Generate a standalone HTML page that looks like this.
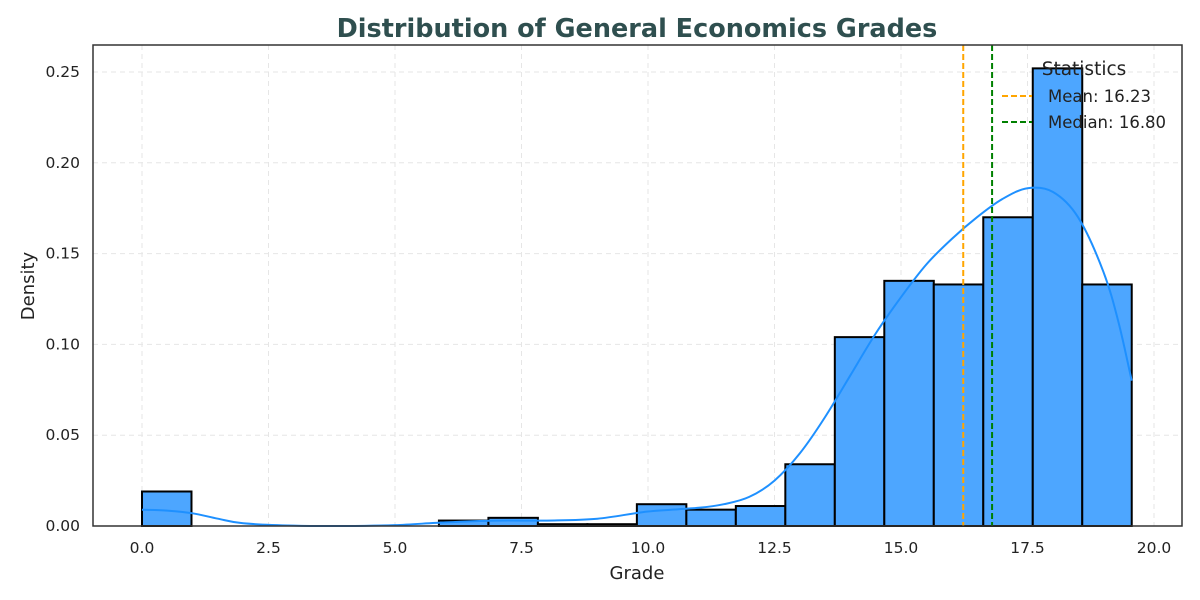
<!DOCTYPE html>
<html><head><meta charset="utf-8"><style>
body{margin:0;background:#fff;}
svg{display:block;font-family:"DejaVu Sans","Liberation Sans",sans-serif;}
</style></head><body>
<svg id="chart" width="1200" height="600"></svg>
<script>
const binEdgesStart = 0, binWidth = 0.978;
const binDensities = [0.019,0,0,0,0,0,0.003,0.0045,0.001,0.001,0.012,0.009,0.011,0.034,0.104,0.135,0.133,0.170,0.252,0.133];
const kdeX = [0,0.5,1,1.5,2,3,4,5,6,7,8,9,10,11,11.5,12,12.5,13,13.5,14,14.5,15,15.5,16,16.5,17,17.5,18,18.5,19,19.3,19.56];
const kdeY = [0.009,0.0085,0.007,0.004,0.0015,0.0002,0,0.0005,0.002,0.003,0.003,0.004,0.008,0.010,0.012,0.016,0.025,0.040,0.060,0.083,0.106,0.126,0.144,0.158,0.170,0.180,0.186,0.184,0.170,0.140,0.112,0.080];
const xTicks = [0,2.5,5,7.5,10,12.5,15,17.5,20];
const yTicks = [0,0.05,0.10,0.15,0.20,0.25];
const meanVal = 16.23, medianVal = 16.80;

const L=93,R=1182,T=45,B=526;
const X=v=>142+v*(1154-142)/20;
const Y=v=>B-v*(526-72)/0.25;
const svg=document.getElementById('chart');
const NS='http://www.w3.org/2000/svg';
function mk(tag,at,parent){const e=document.createElementNS(NS,tag);for(const k in at)e.setAttribute(k,at[k]);(parent||svg).appendChild(e);return e;}

xTicks.forEach(t=>{const l=mk('line',{x1:X(t),x2:X(t),y1:T,y2:B,stroke:'#e6e6e6','stroke-dasharray':'5,4','stroke-width':1});
});
yTicks.forEach(t=>{const l=mk('line',{x1:L,x2:R,y1:Y(t),y2:Y(t),stroke:'#e6e6e6','stroke-dasharray':'5,4','stroke-width':1});
});

binDensities.forEach((d,i)=>{if(d<=0)return;
const x0=X(binEdgesStart+i*binWidth),x1=X(binEdgesStart+(i+1)*binWidth);
const r=mk('rect',{x:x0,y:Y(d),width:x1-x0,height:B-Y(d),fill:'#4da6ff',stroke:'#000','stroke-width':2});
});

// smooth kde (Catmull-Rom)
const P=kdeX.map((x,i)=>[X(x),Y(kdeY[i])]);
let dPath='M'+P[0][0].toFixed(1)+','+P[0][1].toFixed(1);
for(let i=0;i<P.length-1;i++){const p0=P[Math.max(0,i-1)],p1=P[i],p2=P[i+1],p3=P[Math.min(P.length-1,i+2)];
const c1=[p1[0]+(p2[0]-p0[0])/6,p1[1]+(p2[1]-p0[1])/6],c2=[p2[0]-(p3[0]-p1[0])/6,p2[1]-(p3[1]-p1[1])/6];
dPath+='C'+c1.map(v=>v.toFixed(1)).join(',')+' '+c2.map(v=>v.toFixed(1)).join(',')+' '+p2.map(v=>v.toFixed(1)).join(',');}
const kde=mk('path',{d:dPath,fill:'none',stroke:'#1e90ff','stroke-width':2,'stroke-linejoin':'round'});


const ml=mk('line',{x1:X(meanVal),x2:X(meanVal),y1:T,y2:B,stroke:'orange','stroke-width':2,'stroke-dasharray':'6,3'});

const md=mk('line',{x1:X(medianVal),x2:X(medianVal),y1:T,y2:B,stroke:'green','stroke-width':2,'stroke-dasharray':'6,3'});


const fr=mk('rect',{x:L,y:T,width:R-L,height:B-T,fill:'none',stroke:'#333','stroke-width':1.5});


xTicks.forEach(t=>{const e=mk('text',{x:X(t),y:553,'text-anchor':'middle','font-size':15.5,fill:'#222'});e.textContent=t.toFixed(1);
});
yTicks.forEach(t=>{const e=mk('text',{x:80,y:Y(t)+5,'text-anchor':'end','font-size':15.5,fill:'#222'});e.textContent=t.toFixed(2);
});

const ti=mk('text',{x:637,y:37,'text-anchor':'middle','font-size':25.5,'font-weight':'bold',fill:'#2f4f4f'});ti.textContent='Distribution of General Economics Grades';

const xt=mk('text',{x:637,y:579,'text-anchor':'middle','font-size':18,fill:'#222'});xt.textContent='Grade';

const yt=mk('text',{x:34,y:286,'text-anchor':'middle','font-size':18,fill:'#222',transform:'rotate(-90 34 286)'});yt.textContent='Density';


const lg=mk('g',{});
const lt=mk('text',{x:1084,y:75,'text-anchor':'middle','font-size':18.5,fill:'#222'},lg);lt.textContent='Statistics';

[['orange','Mean: 16.23',96],['green','Median: 16.80',122]].forEach(([c,s,y])=>{
const ln=mk('line',{x1:1002,x2:1032,y1:y,y2:y,stroke:c,'stroke-width':2,'stroke-dasharray':'6,3'},lg);

const tx=mk('text',{x:1048,y:y+6,'font-size':16.5,fill:'#222'},lg);tx.textContent=s;
});
</script>
</body></html>
